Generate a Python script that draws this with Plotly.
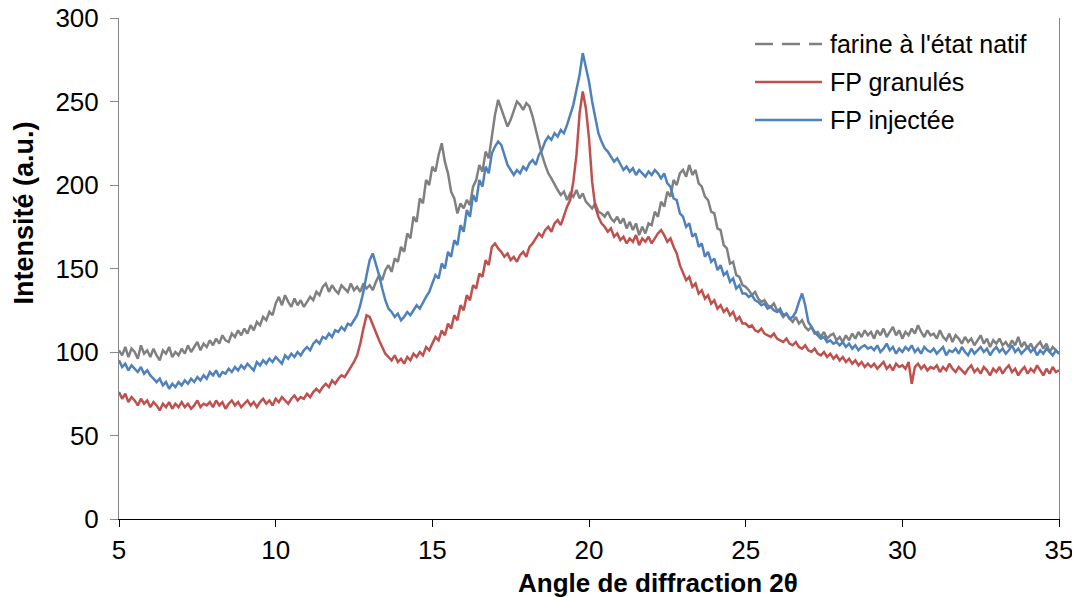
import plotly.graph_objects as go

# 2θ sampling grid (degrees), 0.1° step from 5 to 35
two_theta = [round(5 + 0.1 * i, 1) for i in range(301)]

# farine à l'état natif
native = [
    101, 98, 103, 97, 102, 100, 96, 104, 99, 101, 97, 102, 98, 95, 101, 99, 103, 97, 100, 98,
    102, 99, 104, 100, 103, 106, 101, 105, 103, 107, 104, 108, 105, 110, 107, 106, 111, 109, 113, 110,
    114, 111, 116, 113, 118, 116, 121, 119, 124, 122, 129, 133, 128, 134, 130, 127, 132, 128, 131, 127,
    130, 133, 131, 136, 134, 139, 141, 136, 140, 137, 135, 140, 138, 136, 141, 137, 139, 136, 141, 138,
    140, 137, 142, 146, 143, 149, 152, 148, 156, 154, 163, 160, 171, 168, 181, 178, 192, 189, 203, 200,
    211, 208, 218, 225, 214, 207, 196, 192, 183, 189, 186, 191, 188, 199, 203, 212, 208, 220, 216, 230,
    242, 251, 246, 240, 235, 239, 244, 250, 248, 245, 249, 247, 241, 233, 226, 218, 212, 207, 204, 200,
    197, 194, 196, 191, 195, 193, 197, 192, 195, 190, 188, 186, 189, 184, 183, 181, 184, 180, 178, 181,
    177, 180, 174, 178, 173, 177, 170, 175, 171, 177, 176, 184, 181, 190, 187, 196, 193, 203, 200, 207,
    209, 205, 212, 206, 209, 201, 199, 193, 191, 184, 183, 174, 173, 164, 162, 153, 154, 146, 145, 140,
    139, 137, 134, 136, 132, 130, 131, 128, 127, 129, 125, 124, 121, 123, 120, 118, 121, 117, 119, 115,
    113, 115, 111, 112, 109, 112, 108, 110, 111, 107, 109, 106, 110, 107, 111, 108, 112, 109, 113, 110,
    112, 108, 113, 110, 114, 109, 112, 115, 110, 113, 108, 112, 110, 114, 111, 116, 112, 109, 113, 110,
    111, 108, 113, 109, 107, 111, 106, 110, 108, 105, 109, 106, 108, 104, 107, 110, 105, 108, 103, 107,
    105, 108, 104, 106, 103, 107, 104, 109, 103, 106, 102, 105, 101, 104, 106, 102, 105, 100, 103, 101,
    99,
]

# FP granulés
granules = [
    76, 72, 75, 70, 73, 71, 68, 72, 69, 71, 67, 70, 68, 65, 69, 67, 70, 66, 69, 67,
    70, 67, 69, 66, 68, 71, 67, 69, 68, 70, 67, 71, 68, 70, 66, 69, 71, 68, 70, 67,
    69, 71, 68, 70, 67, 70, 72, 69, 71, 68, 72, 70, 73, 71, 69, 72, 74, 71, 73, 72,
    75, 73, 76, 78, 76, 79, 81, 79, 83, 81, 84, 86, 85, 88, 91, 94, 98, 105, 114, 122,
    121, 116, 111, 107, 103, 99, 97, 95, 98, 94, 96, 93, 97, 95, 99, 97, 100, 98, 103, 101,
    105, 109, 107, 113, 110, 117, 114, 122, 119, 128, 125, 134, 131, 140, 138, 147, 145, 155, 152, 163,
    165, 162, 160, 157, 159, 155, 157, 154, 158, 160, 157, 163, 165, 168, 171, 169, 173, 175, 172, 177,
    179, 176, 182, 187, 191, 202, 218, 243, 256, 246, 228, 202, 187, 181, 177, 175, 172, 174, 169, 171,
    167, 169, 165, 168, 166, 170, 164, 168, 166, 169, 165, 168, 171, 173, 170, 166, 168, 163, 159, 152,
    148, 143, 145, 139, 141, 135, 137, 132, 134, 129, 131, 126, 128, 124, 126, 122, 124, 119, 121, 117,
    117, 115, 116, 113, 112, 114, 111, 110, 109, 111, 108, 107, 106, 108, 105, 104, 106, 103, 102, 104,
    101, 100, 102, 99, 98, 100, 97, 99, 96, 98, 95, 97, 94, 96, 93, 95, 92, 94, 91, 93,
    91, 93, 90, 92, 94, 90, 92, 89, 93, 91, 92, 90, 94, 81, 91, 93, 90, 92, 89, 91,
    90, 92, 88, 91, 89, 93, 90, 88, 91, 89, 87, 90, 92, 88, 90, 87, 91, 89, 86, 90,
    88, 91, 87, 90, 92, 88, 90, 86, 89, 91, 87, 90, 88, 92, 89, 86, 90, 87, 91, 88,
    89,
]

# FP injectée
injectee = [
    95, 91, 93, 89, 92, 90, 88, 91, 87, 89, 86, 84, 82, 84, 80, 82, 78, 81, 79, 82,
    80, 83, 81, 84, 82, 85, 83, 86, 84, 88, 86, 89, 85, 88, 87, 90, 88, 91, 89, 92,
    90, 93, 91, 89, 94, 92, 95, 93, 96, 94, 97, 95, 93, 98, 96, 99, 97, 100, 98, 101,
    103, 101, 105, 107, 105, 109, 108, 111, 109, 113, 112, 115, 113, 117, 116, 119, 122, 128, 136, 146,
    155, 159, 153, 146, 138, 131, 126, 124, 121, 123, 119, 121, 124, 122, 125, 128, 126, 130, 133, 136,
    141, 146, 144, 153, 150, 160, 157, 167, 164, 176, 172, 185, 181, 194, 190, 203, 199, 211, 207, 219,
    223, 226, 224, 218, 212, 209, 206, 209, 207, 211, 209, 213, 215, 212, 218, 221, 226, 229, 227, 231,
    229, 233, 231, 236, 242, 248, 257, 266, 279, 271, 262, 250, 240, 231, 226, 222, 220, 217, 214, 216,
    212, 209, 211, 208, 210, 206, 209, 207, 205, 208, 206, 209, 207, 204, 207, 201, 199, 192, 191, 183,
    181, 175, 177, 169, 171, 163, 165, 157, 160, 154, 156, 149, 152, 146, 148, 142, 144, 138, 140, 135,
    135, 133, 134, 131, 130, 128, 129, 126, 127, 125, 124, 126, 122, 123, 120, 121, 124, 130, 135, 128,
    118, 115, 112, 110, 108, 109, 106, 107, 105, 106, 104, 106, 103, 105, 102, 104, 101, 103, 104, 102,
    103, 101, 104, 100, 102, 105, 101, 103, 99, 102, 100, 103, 101, 104, 100, 102, 99, 103, 101, 100,
    102, 99, 101, 103, 98, 101, 100, 102, 99, 103, 100, 98, 102, 99, 101, 103, 100, 102, 98, 101,
    103, 100, 102, 99, 101, 104, 100, 102, 99, 101, 103, 100, 102, 98, 101, 99, 102, 100, 98, 101,
    99,
]

series_names = ["farine à l'état natif", "FP granulés", "FP injectée"]
colors = ["#808080", "#C0504D", "#4F81BD"]
y_ticks = [0, 50, 100, 150, 200, 250, 300]
x_ticks = [5, 10, 15, 20, 25, 30, 35]

FONT = "Liberation Sans, Arial, sans-serif"

fig = go.Figure()
for name, ys, col in zip(series_names, [native, granules, injectee], colors):
    fig.add_trace(go.Scatter(
        x=two_theta, y=ys, mode="lines", name=name,
        line=dict(color=col, width=2.5), showlegend=False,
    ))

# Legend drawn as shapes + text (long line samples as in the reference)
leg_y = [0.9481, 0.8723, 0.7964]
dashes = ["18px,9px", "solid", "solid"]
for name, col, yy, dd in zip(series_names, colors, leg_y, dashes):
    fig.add_shape(type="line", xref="paper", yref="paper",
                  x0=0.6766, x1=0.7479, y0=yy, y1=yy,
                  line=dict(color=col, width=2.5, dash=dd))
    fig.add_annotation(xref="paper", yref="paper", x=0.7543, y=yy,
                       xanchor="left", yanchor="middle", showarrow=False,
                       text=name, font=dict(family=FONT, size=25, color="#000"))

# Axis titles
fig.add_annotation(xref="paper", yref="paper", x=0.573, y=-0.128,
                   xanchor="center", yanchor="middle", showarrow=False,
                   text="<b>Angle de diffraction 2θ</b>",
                   font=dict(family=FONT, size=26, color="#000"))
fig.add_annotation(xref="paper", yref="paper", x=-0.101, y=0.610,
                   xanchor="center", yanchor="middle", showarrow=False,
                   textangle=-90, text="<b>Intensité (a.u.)</b>",
                   font=dict(family=FONT, size=27, color="#000"))

fig.update_layout(
    width=1080, height=597,
    margin=dict(l=111, r=29, t=10, b=86, autoexpand=False),
    paper_bgcolor="white", plot_bgcolor="white",
    font=dict(family=FONT, size=26, color="#000"),
    showlegend=False,
)
fig.update_xaxes(
    range=[5, 35], tickvals=x_ticks, ticks="outside", ticklen=7,
    tickcolor="#000", showline=True, linecolor="#000", linewidth=1,
    showgrid=False, zeroline=False, ticklabelstandoff=1,
    automargin=False, ticklabeloverflow="allow",
    tickfont=dict(family=FONT, size=26, color="#000"),
)
fig.update_yaxes(
    range=[0, 300], tickvals=y_ticks, ticks="outside", ticklen=8,
    tickcolor="#868686", showline=True, linecolor="#868686", linewidth=1,
    mirror=True, showgrid=False, zeroline=False,
    ticklabelstandoff=6, automargin=False, ticklabeloverflow="allow",
    tickfont=dict(family=FONT, size=26, color="#000"),
)

fig.write_html("out.html")
